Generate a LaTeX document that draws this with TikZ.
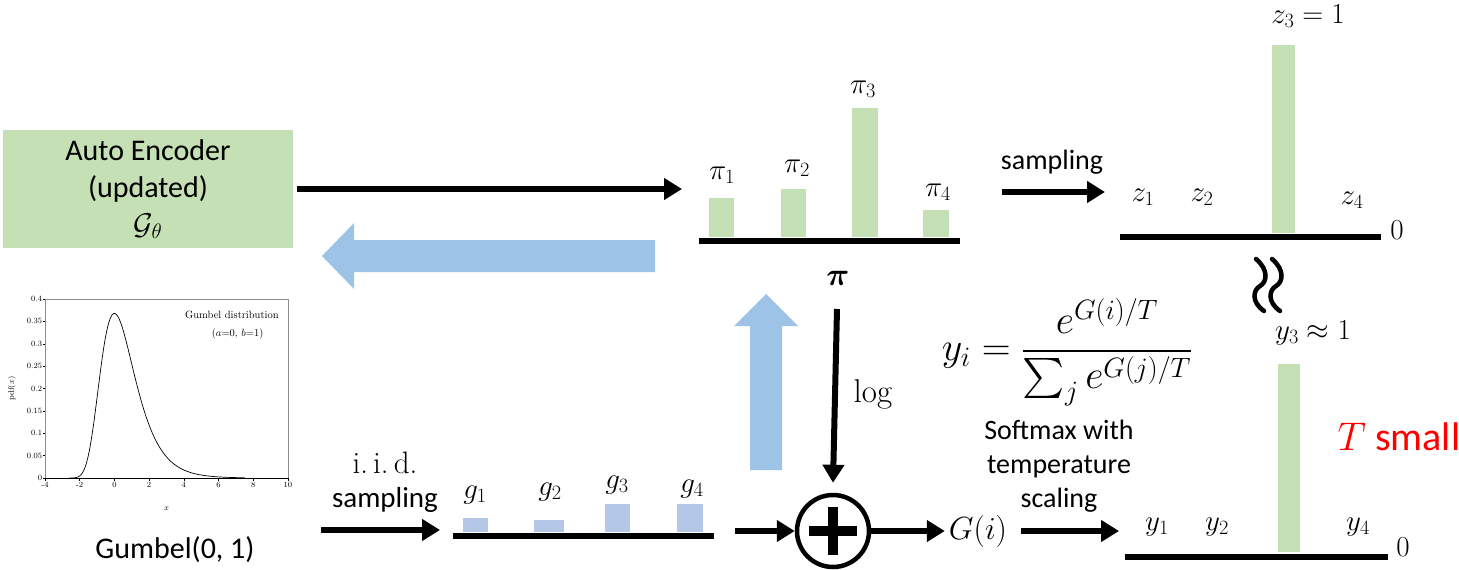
\RequirePackage{fix-cm}
\documentclass[tikz,border=0pt]{standalone}
\usepackage{amsmath, amssymb}
\usepackage{bm}
\usepackage{fontspec}
\setmainfont{Carlito}
\newfontfamily\plotfont{Latin Modern Roman}
\usepackage{tikz}
\usetikzlibrary{arrows.meta, positioning, calc}
\definecolor{barg}{HTML}{C5E0B4}
\definecolor{barb}{HTML}{B4C7E7}
\definecolor{gradc}{HTML}{9DC3E6}
\newcommand{\histbar}[3]{%
  \fill[#1] #2 rectangle #3;
}

\begin{document}
\begin{tikzpicture}[x=1pt, y=-1pt,
          txt/.style={font=\fontsize{29}{35}\selectfont, inner sep=0pt},
          mlbl/.style={font=\fontsize{29}{34}\selectfont, inner sep=0pt},
          encbox/.style={fill=barg, minimum width=290pt, minimum height=118pt,
                         align=center, font=\fontsize{30}{37}\selectfont},
          arr/.style={line width=6pt, -{Triangle[length=18pt, width=21pt]}},
          baseln/.style={line width=6pt},
          ticklbl/.style={font=\plotfont\fontsize{8}{9}\selectfont, inner sep=1pt}]
        \useasboundingbox (0,0) rectangle (1459,570);

        % encoder and the two big arrows
        \node[encbox] (enc) at (148,189) {Auto Encoder\\(updated)\\$\mathcal{G}_\theta$};
        \coordinate (piin) at (682,189);
        \draw[arr] ([xshift=4pt]enc.east) -- (piin);
        \coordinate (gradR) at (655,256);
        \coordinate (gradL) at (322,256);
        \fill[gradc] ($(gradR)+(0,-16)$) -- ($(gradL)+(32,-16)$) -- ($(gradL)+(32,-33)$)
          -- (gradL) -- ($(gradL)+(32,33)$) -- ($(gradL)+(32,16)$) -- ($(gradR)+(0,16)$) -- cycle;
        \coordinate (upB) at (766,470);
        \coordinate (upT) at (766,294);
        \fill[gradc] ($(upB)+(-16,0)$) -- ($(upT)+(-16,32)$) -- ($(upT)+(-32,32)$)
          -- (upT) -- ($(upT)+(32,32)$) -- ($(upT)+(16,32)$) -- ($(upB)+(16,0)$) -- cycle;

        % pi
        \draw[baseln] (699,241) coordinate (pil) -- (960,241) coordinate (pir);
        \histbar{barg}{(709,237)}{(734,198)}
        \histbar{barg}{(781,237)}{(806,189)}
        \histbar{barg}{(852,237)}{(878,108)}
        \histbar{barg}{(923,237)}{(949,210)}
        \node[mlbl] (p1) at (722,175) {$\pi_1$};
        \node[mlbl] (p2) at (797,168) {$\pi_2$};
        \node[mlbl] (p3) at (863,89) {$\pi_3$};
        \node[mlbl] (p4) at (938,192) {$\pi_4$};
        \node[font=\fontsize{32}{36}\selectfont] (pib) at (838,278) {$\bm{\pi}$};

        % plus and log
        \node[circle, draw, line width=4.5pt, minimum size=72pt, inner sep=0pt] (add) at (833,531) {};
        \draw[line width=10pt] ($(add.center)+(-24,0)$) -- ($(add.center)+(24,0)$);
        \draw[line width=10pt] ($(add.center)+(0,-24)$) -- ($(add.center)+(0,24)$);
        \coordinate (logtop) at (837,309);
        \draw[arr] (logtop) -- ([yshift=10pt]add.north);
        \node[font=\plotfont\fontsize{33}{36}\selectfont] (log) at (873,394) {log};

        % gumbel samples
        \node[txt] (iid) at (385,463) {\plotfont\fontsize{31}{34}\selectfont i.\,i.\,d.};
        \node[txt] (samp1) at (385,500) {sampling};
        \coordinate (iidL) at (321,530);
        \coordinate (iidR) at (440,530);
        \draw[arr] (iidL) -- (iidR);
        \draw[baseln] (453,536) coordinate (gl) -- (714,536) coordinate (gr);
        \histbar{barb}{(463,532)}{(488,518)}
        \histbar{barb}{(534,532)}{(564,520)}
        \histbar{barb}{(605,532)}{(630,504)}
        \histbar{barb}{(677,532)}{(703,504)}
        \node[mlbl] (g1) at (475,495) {$g_1$};
        \node[mlbl] (g2) at (550,492) {$g_2$};
        \node[mlbl] (g3) at (617,485) {$g_3$};
        \node[mlbl] (g4) at (692,489) {$g_4$};
        \coordinate (gout) at (735,531);
        \draw[arr] (gout) -- (add.west);

        % G(i) and softmax
        \node[font=\fontsize{32}{36}\selectfont, inner sep=4pt] (gi) at (978,531) {$G(i)$};
        \draw[arr] (add.east) -- (gi.west);
        \coordinate (yin) at (1119,531);
        \draw[arr] ([xshift=10pt]gi.east) -- (yin);
        \node[font=\fontsize{40}{44}\selectfont, inner sep=0pt] (soft) at (1067,352)
          {$\displaystyle y_i=\frac{e^{G(i)/T}}{\sum_j e^{G(j)/T}}$};
        \node[txt, align=center, font=\fontsize{28}{34}\selectfont] (softlbl) at (1059,466)
          {Softmax with\\temperature\\scaling};

        % one-hot z
        \node[txt, font=\fontsize{28}{32}\selectfont] (samp2) at (1052,162) {sampling};
        \coordinate (sL) at (1002,192);
        \coordinate (sR) at (1105,192);
        \draw[arr] (sL) -- (sR);
        \draw[baseln] (1120,237) coordinate (zl) -- (1381,237) coordinate (zr);
        \histbar{barg}{(1272,233)}{(1295,45)}
        \node[mlbl] (z1) at (1143,197) {$z_1$};
        \node[mlbl] (z2) at (1202,197) {$z_2$};
        \node[mlbl] (z3) at (1308,16) {$z_3=1$};
        \node[mlbl] (z4) at (1352,200) {$z_4$};
        \node[mlbl] (z0) at (1397,230) {$0$};

        % approx sign
        \foreach \wx in {1260,1276}
          \draw[line width=4.5pt, line cap=round] (\wx-4,259) .. controls (\wx+9,270) and (\wx+7,282) .. (\wx,286)
            .. controls (\wx-7,290) and (\wx-9,302) .. (\wx+4,311);

        % soft y
        \draw[baseln] (1125,557) coordinate (yl) -- (1388,557) coordinate (yr);
        \histbar{barg}{(1278,552)}{(1300,364)}
        \node[mlbl] (y1) at (1157,527) {$y_1$};
        \node[mlbl] (y2) at (1217,527) {$y_2$};
        \node[mlbl] (y3) at (1313,333) {$y_3\approx 1$};
        \node[mlbl] (y4) at (1358,527) {$y_4$};
        \node[mlbl] (y0) at (1403,547) {$0$};
        \node[font=\fontsize{40}{46}\selectfont, text=red, inner sep=0pt] (tsmall) at (1399,437) {$T$ small};

        % gumbel pdf
        \node[txt, font=\fontsize{30}{34}\selectfont] (gcap) at (175,550) {Gumbel(0, 1)};
        \begin{scope}[shift={(114.4,478)}, x=17.357pt, y=447.5pt]
          \draw[black!45, line width=0.5pt] (-4,0) rectangle (10,0.4);
          \draw[line width=0.6pt] (-4,0) -- (10,0);
          \foreach \t in {-4,-2,...,10}
            \draw[line width=0.4pt] (\t,0) -- ++(0,-0.006) node[below, ticklbl] {\t};
          \foreach \v in {0,0.05,0.1,0.15,0.2,0.25,0.3,0.35,0.4}
            \draw[line width=0.4pt] (-4,\v) -- ++(-0.1,0) node[left, ticklbl] {\v};
          \draw[line width=0.7pt] plot[domain=-2.6:7.5, samples=120, smooth] (\x, {exp(-(\x+exp(-\x)))});
          \node[rotate=90, ticklbl] (pdf) at (-5.9,0.2) {pdf($x$)};
          \node[ticklbl] (xlab) at (3,-0.068) {$x$};
          \node[font=\plotfont\fontsize{10.5}{12}\selectfont] (gname) at (6.77,0.364) {Gumbel distribution};
          \node[font=\plotfont\fontsize{10.5}{12}\selectfont] (gpar) at (7.1,0.322) {$(a{=}0,\,b{=}1)$};
        \end{scope}
      \end{tikzpicture}
\end{document}
